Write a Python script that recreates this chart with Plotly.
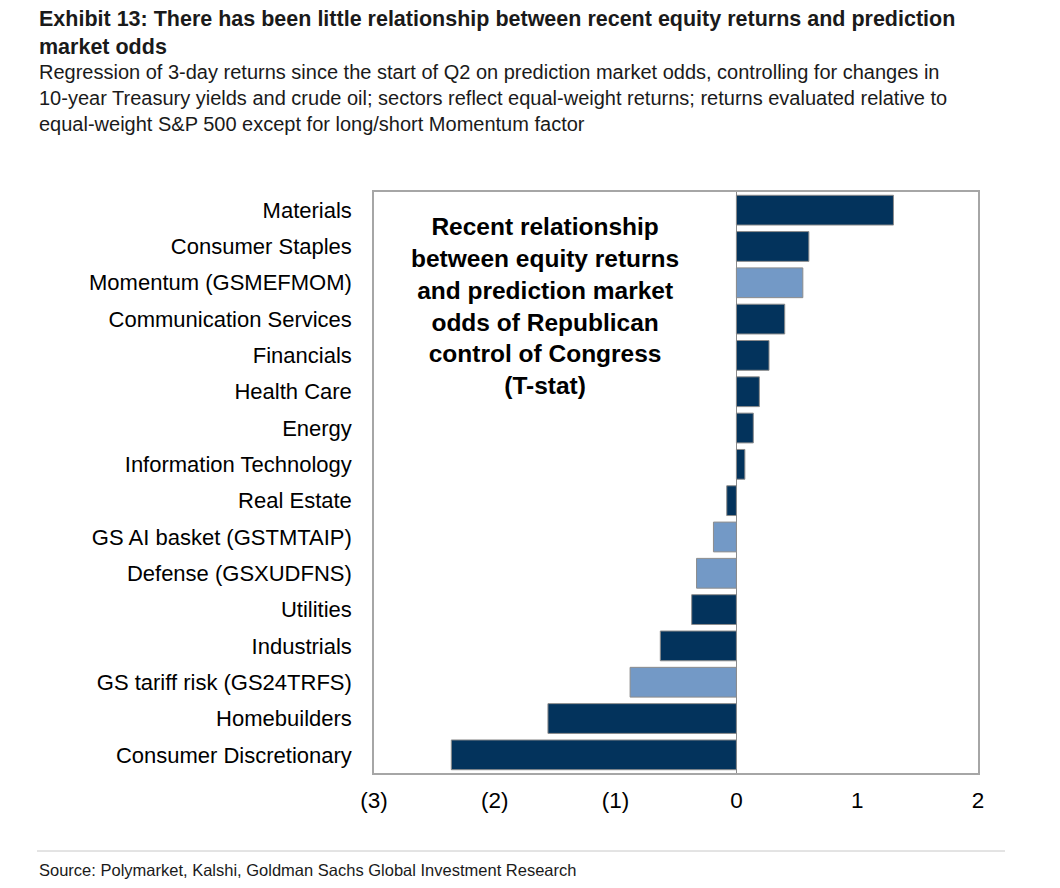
"""Exhibit 13: equity returns vs prediction market odds (T-stat bars)."""

import plotly.graph_objects as go

# data, top to bottom as shown
categories = [
    "Materials",
    "Consumer Staples",
    "Momentum (GSMEFMOM)",
    "Communication Services",
    "Financials",
    "Health Care",
    "Energy",
    "Information Technology",
    "Real Estate",
    "GS AI basket (GSTMTAIP)",
    "Defense (GSXUDFNS)",
    "Utilities",
    "Industrials",
    "GS tariff risk (GS24TRFS)",
    "Homebuilders",
    "Consumer Discretionary",
]
t_stats = [1.30, 0.60, 0.55, 0.40, 0.27, 0.19, 0.14, 0.07,
           -0.08, -0.19, -0.33, -0.37, -0.63, -0.88, -1.56, -2.36]
kinds = ["sector", "sector", "basket", "sector", "sector", "sector", "sector", "sector",
         "sector", "basket", "basket", "sector", "sector", "basket", "sector", "sector"]
x_tickvals = [-3, -2, -1, 0, 1, 2]
x_ticktext = ["(3)", "(2)", "(1)", "0", "1", "2"]

NAVY = "#03335c"
LIGHT = "#7399c6"
colors = [LIGHT if k == "basket" else NAVY for k in kinds]

FONT = "Liberation Sans, Arial, sans-serif"
HEAD = "Liberation Sans Narrow, Arial Narrow, Liberation Sans, sans-serif"

# page body adds an 8px margin, so the figure is drawn 8px in from the corner
OFF = 8
FIG_W, FIG_H = 1060 - OFF, 888 - 2 * OFF
PLOT_L, PLOT_R, PLOT_T, PLOT_B = 374, 978, 192, 773  # in screenshot px

fig = go.Figure(
    go.Bar(
        x=t_stats,
        y=categories,
        orientation="h",
        marker=dict(color=colors, line=dict(color="#8c8c8c", width=1)),
        showlegend=False,
    )
)

fig.update_layout(
    width=FIG_W,
    height=FIG_H,
    margin=dict(l=PLOT_L - OFF, r=FIG_W - (PLOT_R - OFF),
                t=PLOT_T - OFF, b=FIG_H - (PLOT_B - OFF)),
    paper_bgcolor="white",
    plot_bgcolor="white",
    bargap=0.18,
    font=dict(family=FONT, color="black"),
)
fig.update_xaxes(
    range=[-3, 2],
    tickvals=x_tickvals,
    ticktext=x_ticktext,
    showgrid=False,
    zeroline=True,
    zerolinecolor="#8c8c8c",
    zerolinewidth=1,
    showline=True,
    mirror=True,
    linecolor="#a6a6a6",
    linewidth=1.5,
    ticks="",
    ticklabelstandoff=6,
    tickfont=dict(size=22.5, family=FONT),
)
fig.update_yaxes(
    autorange="reversed",
    showgrid=False,
    showline=True,
    mirror=True,
    linecolor="#a6a6a6",
    linewidth=1.5,
    ticks="",
    ticklabelstandoff=16,
    tickfont=dict(size=22, family=FONT),
)

W, H = float(PLOT_R - PLOT_L), float(PLOT_B - PLOT_T)


def px(x, y):
    return (x - PLOT_L) / W, (PLOT_B - y) / H


ax, ay = px(37, 5)
fig.add_annotation(
    x=ax, y=ay, xref="paper", yref="paper", xanchor="left", yanchor="top",
    align="left", showarrow=False,
    text="<b>Exhibit 13: There has been little relationship between recent equity returns and prediction"
         "<br>market odds</b>",
    font=dict(family=HEAD, size=21.5, color="#1a1a1a"),
)
ax, ay = px(37, 59)
fig.add_annotation(
    x=ax, y=ay, xref="paper", yref="paper", xanchor="left", yanchor="top",
    align="left", showarrow=False,
    text="Regression of 3-day returns since the start of Q2 on prediction market odds, controlling for changes in"
         "<br>10-year Treasury yields and crude oil; sectors reflect equal-weight returns; returns evaluated relative to"
         "<br>equal-weight S&P 500 except for long/short Momentum factor",
    font=dict(family=HEAD, size=20, color="#1a1a1a"),
)
ax, ay = px(545, 211)
fig.add_annotation(
    x=ax, y=ay, xref="paper", yref="paper", xanchor="center", yanchor="top",
    align="center", showarrow=False,
    text="<b>Recent relationship<br>between equity returns<br>and prediction market"
         "<br>odds of Republican<br>control of Congress<br>(T-stat)</b>",
    font=dict(family=FONT, size=24.5, color="black"),
)
ax, ay = px(37, 859)
fig.add_annotation(
    x=ax, y=ay, xref="paper", yref="paper", xanchor="left", yanchor="top",
    align="left", showarrow=False,
    text="Source: Polymarket, Kalshi, Goldman Sachs Global Investment Research",
    font=dict(family=HEAD, size=16.5, color="#1a1a1a"),
)
x0, y0 = px(37, 851)
x1, _ = px(1005, 851)
fig.add_shape(type="line", xref="paper", yref="paper", x0=x0, x1=x1, y0=y0, y1=y0,
              line=dict(color="#c8c8c8", width=1))

fig.write_html("out.html")
